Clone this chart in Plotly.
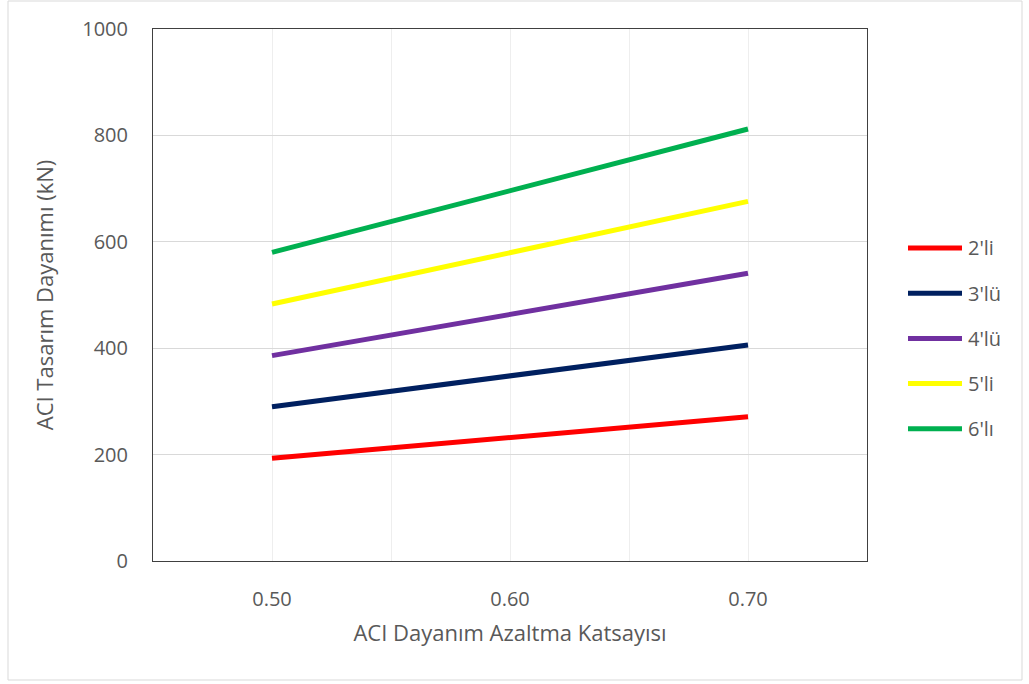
import plotly.graph_objects as go

# Strength reduction factor (x) and ACI design strength (kN) per bar group
phi = [0.50, 0.70]
series_names = ["2'li", "3'lü", "4'lü", "5'li", "6'lı"]
strength_2li = [193, 271]
strength_3lu = [290, 406]
strength_4lu = [386, 541]
strength_5li = [483, 676]
strength_6li = [580, 812]
series_colors = ["#FF0000", "#002060", "#7030A0", "#FFFF00", "#00B050"]

x_ticks = [0.50, 0.60, 0.70]
x_tick_labels = ["0.50", "0.60", "0.70"]
y_ticks = [0, 200, 400, 600, 800, 1000]

W, H = 1029, 684
L, R, T, B = 153, 867, 29, 561


def px_x(px):
    return (px - L) / (R - L)


def px_y(py):
    return (B - py) / (B - T)


fig = go.Figure()
all_series = [strength_2li, strength_3lu, strength_4lu, strength_5li, strength_6li]
for name, vals, col in zip(series_names, all_series, series_colors):
    fig.add_trace(go.Scatter(
        x=phi, y=vals, mode="lines", name=name,
        line=dict(color=col, width=5), showlegend=False,
    ))

font_family = "Open Sans, sans-serif"
text_color = "#595959"

# Legend drawn at the right of the plot: long line swatch + label per series
shapes = [dict(
    type="rect", xref="paper", yref="paper",
    x0=px_x(8), x1=px_x(1022), y0=px_y(680), y1=px_y(1),
    line=dict(color="#D9D9D9", width=1), layer="below",
)]
annotations = []
for i, (name, col) in enumerate(zip(series_names, series_colors)):
    yy = px_y(248 + 45.2 * i)
    shapes.append(dict(
        type="line", xref="paper", yref="paper",
        x0=px_x(908), x1=px_x(962), y0=yy, y1=yy,
        line=dict(color=col, width=5),
    ))
    annotations.append(dict(
        xref="paper", yref="paper", x=px_x(966), y=yy,
        xanchor="left", yanchor="middle", text=name, showarrow=False,
        font=dict(size=20, color=text_color),
    ))

fig.update_layout(
    width=W, height=H,
    margin=dict(l=L, r=W - R, t=T, b=H - B),
    paper_bgcolor="white", plot_bgcolor="white",
    font=dict(family=font_family, size=20, color=text_color),
    showlegend=False,
    xaxis=dict(
        range=[0.45, 0.75],
        tickvals=x_ticks, ticktext=x_tick_labels,
        showgrid=True, gridcolor="#EEEEEE", gridwidth=1,
        minor=dict(dtick=0.05, tick0=0.45, showgrid=True, gridcolor="#EEEEEE"),
        showline=True, linecolor="#404040", linewidth=1, mirror=True,
        zeroline=False, ticks="", ticklabelstandoff=20,
        tickfont=dict(size=20, color=text_color),
        title=dict(text="ACI Dayanım Azaltma Katsayısı",
                   font=dict(size=22, color=text_color), standoff=14),
    ),
    yaxis=dict(
        range=[0, 1000], tickvals=y_ticks,
        showgrid=True, gridcolor="#D9D9D9", gridwidth=1,
        showline=True, linecolor="#404040", linewidth=1, mirror=True,
        zeroline=False, ticks="", ticklabelstandoff=20,
        tickfont=dict(size=20, color=text_color),
        title=dict(text="ACI Tasarım Dayanımı (kN)",
                   font=dict(size=22, color=text_color), standoff=22),
    ),
    shapes=shapes,
    annotations=annotations,
)

fig.write_html("out.html")
